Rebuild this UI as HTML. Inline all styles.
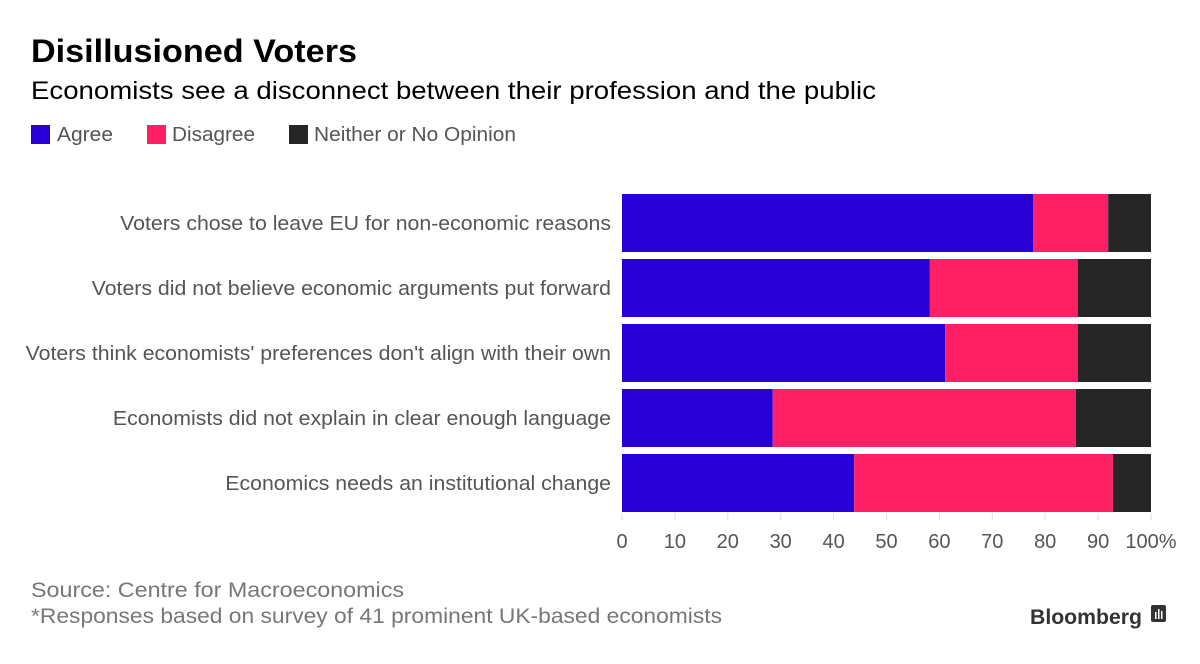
<!DOCTYPE html>
<html><head><meta charset="utf-8"><style>
body{margin:0;background:#fff;width:1200px;height:659px;overflow:hidden;font-family:"Liberation Sans",sans-serif}
svg text{font-family:"Liberation Sans",sans-serif}
</style></head><body>
<svg id="chart" width="1200" height="659">
<text x="31" y="62" font-size="32" font-weight="bold" fill="#000" textLength="326" lengthAdjust="spacingAndGlyphs">Disillusioned Voters</text>
<text x="31" y="99" font-size="25" fill="#000" textLength="845" lengthAdjust="spacingAndGlyphs">Economists see a disconnect between their profession and the public</text>
<g>
<rect x="31" y="125" width="19" height="19" fill="#2800d7"/>
<text x="57" y="141" font-size="20" fill="#555" textLength="56" lengthAdjust="spacingAndGlyphs">Agree</text>
<rect x="147" y="125" width="19" height="19" fill="#ff1f64"/>
<text x="172" y="141" font-size="20" fill="#555" textLength="83" lengthAdjust="spacingAndGlyphs">Disagree</text>
<rect x="289" y="125" width="19" height="19" fill="#262626"/>
<text x="314" y="141" font-size="20" fill="#555" textLength="202" lengthAdjust="spacingAndGlyphs">Neither or No Opinion</text>
</g>
<g id="plot"></g>
<text x="31" y="597" font-size="21" fill="#777" textLength="373" lengthAdjust="spacingAndGlyphs">Source: Centre for Macroeconomics</text>
<text x="31" y="623" font-size="21" fill="#777" textLength="691" lengthAdjust="spacingAndGlyphs">*Responses based on survey of 41 prominent UK-based economists</text>
<g>
<text x="1030" y="624" font-size="21" font-weight="bold" fill="#333" textLength="112" lengthAdjust="spacingAndGlyphs">Bloomberg</text>
<rect x="1151" y="605" width="15" height="17" rx="2" fill="#333"/>
<rect x="1155" y="612" width="1.5" height="7" fill="#fff"/><rect x="1158" y="609" width="1.5" height="10" fill="#fff"/><rect x="1161" y="611" width="1.5" height="8" fill="#fff"/>
</g>
</svg>
<script>
const categories=["Voters chose to leave EU for non-economic reasons","Voters did not believe economic arguments put forward","Voters think economists' preferences don't align with their own","Economists did not explain in clear enough language","Economics needs an institutional change"];
const agree=[77.7,58.2,61.1,28.5,43.9];
const disagree=[14.2,28.0,25.1,57.3,48.9];
const neither=[8.1,13.8,13.8,14.2,7.2];
const ticks=[0,10,20,30,40,50,60,70,80,90,100];
const tickLabels=["0","10","20","30","40","50","60","70","80","90","100%"];
const NS="http://www.w3.org/2000/svg";
const g=document.getElementById('plot');
const x0=622,x1=1151;
const xs=v=>x0+(x1-x0)*v/100;
const yTop=i=>194+i*65;
const bh=58;
function mk(t,a){const e=document.createElementNS(NS,t);for(const k in a)e.setAttribute(k,a[k]);g.appendChild(e);return e;}
ticks.forEach((t,i)=>{
 const l=mk('line',{x1:xs(t),x2:xs(t),y1:513,y2:520,stroke:'#ddd','stroke-width':1});
 
 
 const tx=mk('text',{x:xs(t),y:548,'font-size':20,fill:'#555','text-anchor':'middle'});
 tx.textContent=tickLabels[i];
 
 
});
const series=[[agree,'#2800d7','agree'],[disagree,'#ff1f64','disagree'],[neither,'#262626','neither']];
categories.forEach((c,i)=>{
 let acc=0;
 series.forEach(([arr,col,n])=>{
  const r=mk('rect',{x:xs(acc),y:yTop(i),width:xs(acc+arr[i])-xs(acc),height:bh,fill:col});
  
  
  acc+=arr[i];
 });
 const t=mk('text',{x:611,y:yTop(i)+bh/2+7,'font-size':20,fill:'#555','text-anchor':'end'});
 t.textContent=c;
 
 
 const w=t.getComputedTextLength();
 t.setAttribute('textLength',(w*1.064).toFixed(1));
 t.setAttribute('lengthAdjust','spacingAndGlyphs');
});
</script>
</body></html>
